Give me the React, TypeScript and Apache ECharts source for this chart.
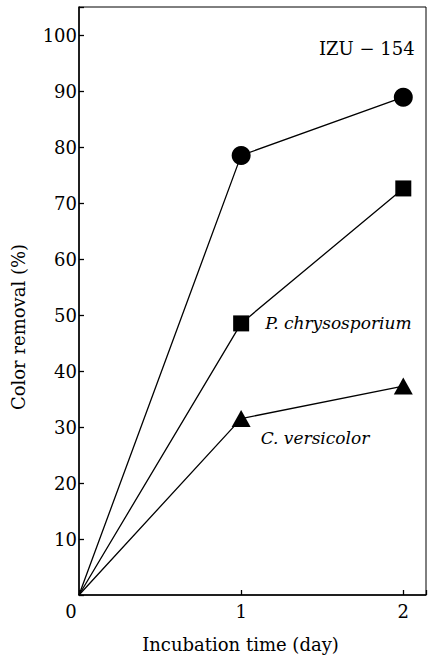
import React, { useEffect, useRef } from "react";
import * as echarts from "echarts";

const days = [0, 1, 2];
const izuSeries = [0, 78.5, 88.9];
const chrysosporiumSeries = [0, 48.5, 72.6];
const versicolorSeries = [0, 31.5, 37.3];
const xTicks = [0, 1, 2];
const yTicks = [10, 20, 30, 40, 50, 60, 70, 80, 90, 100];

const FONT = "'DejaVu Serif', 'Liberation Serif', serif";

export default function App() {
  const ref = useRef<HTMLDivElement>(null);
  useEffect(() => {
    if (!ref.current) return;
    const chart = echarts.init(ref.current, null, { renderer: "svg" });
    const labelStyle = {
      fontFamily: FONT,
      fontStyle: "italic",
      fontSize: 17,
      color: "#000",
    };
    const build = (vals: number[], labelIdx: number, label: any) =>
      days.map((d, i) => {
        const item: any = { value: [d, vals[i]] };
        if (i === 0) item.symbol = "none";
        if (i === labelIdx && label) item.label = label;
        return item;
      });
    const lineStyle = { color: "#000", width: 1.3 };
    const itemStyle = { color: "#000" };
    chart.setOption({
      animation: false,
      backgroundColor: "#fff",
      grid: {
        left: 79,
        right: 1,
        top: 7,
        bottom: 59,
        show: true,
        borderColor: "#000",
        borderWidth: 1,
        backgroundColor: "transparent",
      },
      xAxis: {
        type: "value",
        min: 0,
        max: 2.14,
        interval: 1,
        name: "Incubation time (day)",
        nameLocation: "middle",
        nameGap: 40,
        nameTextStyle: {
          fontFamily: FONT,
          fontSize: 18,
          color: "#000",
          padding: [0, 24, 0, 0],
        },
        axisLine: { show: true, lineStyle: { color: "#000", width: 1.5 } },
        axisTick: { show: true, inside: true, length: 5, lineStyle: { color: "#000", width: 1.3 } },
        axisLabel: {
          fontFamily: FONT,
          fontSize: 18,
          color: "#000",
          margin: 7,
          formatter: (v: number) =>
            v === 0 ? "{z|0}" : xTicks.includes(v) ? String(v) : "",
          rich: {
            z: {
              fontFamily: FONT,
              fontSize: 18,
              color: "#000",
              padding: [0, 16, 0, 0],
            },
          },
        },
        splitLine: { show: false },
      },
      yAxis: {
        type: "value",
        min: 0,
        max: 105,
        interval: 10,
        axisLine: { show: true, lineStyle: { color: "#000", width: 1.5 } },
        axisTick: { show: true, inside: true, length: 5, lineStyle: { color: "#000", width: 1.3 } },
        axisLabel: {
          fontFamily: FONT,
          fontSize: 18,
          color: "#000",
          margin: 2,
          formatter: (v: number) => (yTicks.includes(v) ? String(v) : ""),
        },
        splitLine: { show: false },
      },
      graphic: [
        {
          type: "text",
          x: 319,
          y: 48,
          style: {
            text: "IZU − 154",
            fontFamily: FONT,
            fontSize: 18,
            fill: "#000",
            align: "left",
            verticalAlign: "middle",
          },
        },
        {
          type: "text",
          x: 18,
          y: 327,
          rotation: Math.PI / 2,
          style: {
            text: "Color removal (%)",
            fontFamily: FONT,
            fontSize: 18,
            fill: "#000",
            align: "center",
            verticalAlign: "middle",
          },
        },
      ],
      series: [
        {
          type: "line",
          data: build(izuSeries, -1, null),
          symbol: "circle",
          symbolSize: 19,
          lineStyle,
          itemStyle,
        },
        {
          type: "line",
          data: build(chrysosporiumSeries, 1, {
            show: true,
            position: "right",
            distance: 16,
            formatter: "P. chrysosporium",
            ...labelStyle,
          }),
          symbol: "rect",
          symbolSize: 16,
          lineStyle,
          itemStyle,
        },
        {
          type: "line",
          data: build(versicolorSeries, 1, {
            show: true,
            position: "right",
            distance: 10,
            offset: [0, 19],
            formatter: "C. versicolor",
            ...labelStyle,
          }),
          symbol: "triangle",
          symbolSize: [19, 17],
          lineStyle,
          itemStyle,
        },
      ],
    });
    return () => chart.dispose();
  }, []);
  return (
    <div
      ref={ref}
      style={{ position: "fixed", left: 0, top: 0, width: 429, height: 658 }}
    />
  );
}
